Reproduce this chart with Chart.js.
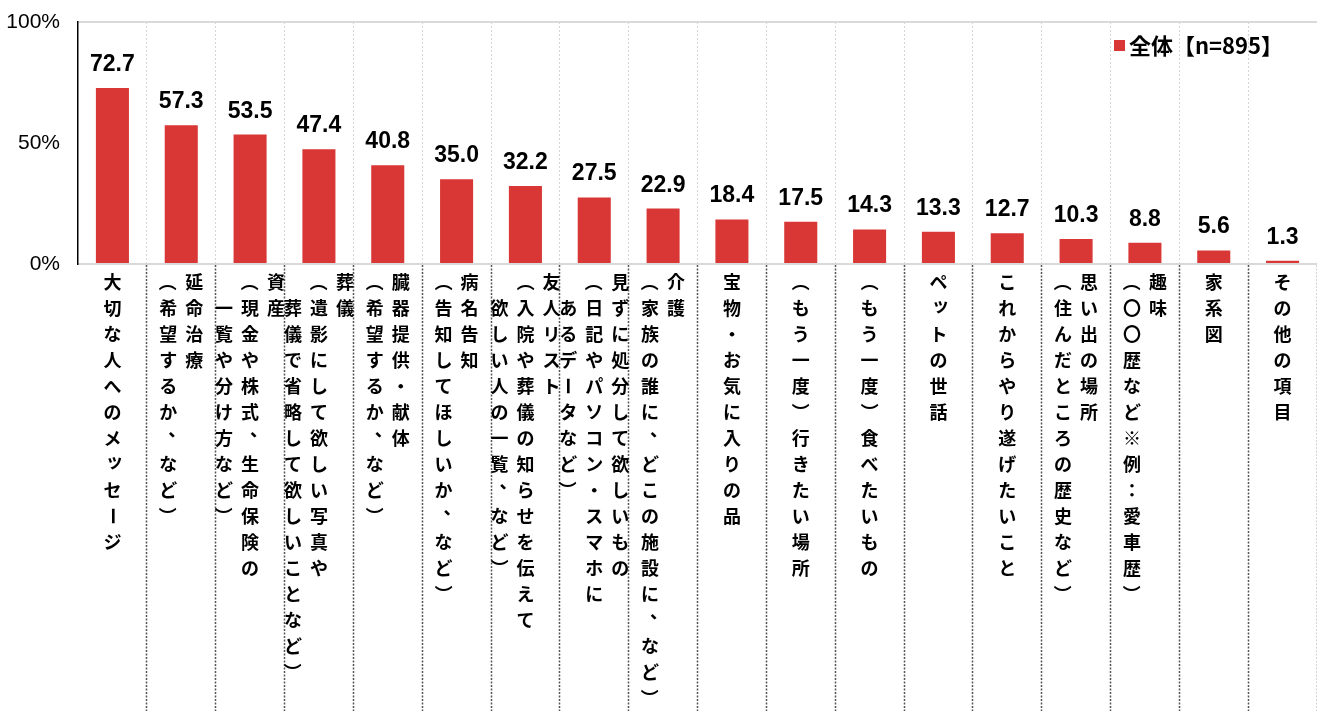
<!DOCTYPE html>
<html lang="ja">
<head>
<meta charset="utf-8">
<script src="https://cdn.jsdelivr.net/npm/chart.js@4"></script>
<style>
  html, body { margin: 0; padding: 0; background: #fff; }
  #wrap { width: 1317px; height: 711px; }
</style>
</head>
<body>
<div id="wrap"><canvas id="chart"></canvas></div>
<script>
// categories: each entry = vertical text columns, right to left
const categories = [
  ['大切な人へのメッセージ'],
  ['延命治療', '（希望するか、など）'],
  ['資産', '（現金や株式、生命保険の', '　一覧や分け方など）'],
  ['葬儀', '（遺影にして欲しい写真や', '　葬儀で省略して欲しいことなど）'],
  ['臓器提供・献体', '（希望するか、など）'],
  ['病名告知', '（告知してほしいか、など）'],
  ['友人リスト', '（入院や葬儀の知らせを伝えて', '　欲しい人の一覧、など）'],
  ['見ずに処分して欲しいもの', '（日記やパソコン・スマホに', '　あるデータなど）'],
  ['介護', '（家族の誰に、どこの施設に、など）'],
  ['宝物・お気に入りの品'],
  ['（もう一度）行きたい場所'],
  ['（もう一度）食べたいもの'],
  ['ペットの世話'],
  ['これからやり遂げたいこと'],
  ['思い出の場所', '（住んだところの歴史など）'],
  ['趣味', '（〇〇歴など※例：愛車歴）'],
  ['家系図'],
  ['その他の項目']
];
const seriesLabel = '全体【n=895】';
const values = [72.7, 57.3, 53.5, 47.4, 40.8, 35.0, 32.2, 27.5, 22.9, 18.4, 17.5, 14.3, 13.3, 12.7, 10.3, 8.8, 5.6, 1.3];
const yTicks = [0, 50, 100];

const RED = '#D93636';
const JP = '"Noto Sans CJK JP", "Noto Sans", sans-serif';

// value labels above each bar + legend inside the plot
const barLabels = {
  id: 'barLabels',
  afterDatasetsDraw(chart) {
    const ctx = chart.ctx;
    const meta = chart.getDatasetMeta(0);
    ctx.save();
    ctx.fillStyle = '#000';
    ctx.font = 'bold 23px "Liberation Sans", Arial, sans-serif';
    ctx.textAlign = 'center';
    ctx.textBaseline = 'alphabetic';
    meta.data.forEach((bar, i) => {
      ctx.fillText(values[i].toFixed(1), bar.x, bar.y - 17);
    });
    // legend
    const a = chart.chartArea;
    ctx.fillStyle = chart.data.datasets[0].backgroundColor;
    ctx.fillRect(a.right - 203, a.top + 18, 11, 11);
    ctx.fillStyle = '#000';
    ctx.font = 'bold 22px ' + JP;
    ctx.textAlign = 'left';
    ctx.textBaseline = 'middle';
    ctx.fillText(chart.data.datasets[0].label, a.right - 188, a.top + 24);
    ctx.restore();
  }
};

// vertical (tategaki) category labels under the axis
const rotateChars = '（）ー〜';
const vertLabels = {
  id: 'vertLabels',
  afterDraw(chart) {
    const ctx = chart.ctx;
    const xs = chart.scales.x;
    const top = chart.chartArea.bottom + 18;
    const pitch = 26;
    ctx.save();
    ctx.fillStyle = '#000';
    ctx.font = 'bold 18px ' + JP;
    ctx.textAlign = 'center';
    ctx.textBaseline = 'middle';
    categories.forEach((lines, i) => {
      const cx = xs.getPixelForValue(i);
      const n = lines.length;
      lines.forEach((line, j) => {
        const x = cx + ((n - 1) / 2 - j) * pitch;
        Array.from(line).forEach((ch, r) => {
          const y = top + r * pitch;
          if (rotateChars.includes(ch)) {
            ctx.save();
            ctx.translate(x, y);
            ctx.rotate(Math.PI / 2);
            ctx.fillText(ch, 0, 0);
            ctx.restore();
          } else if (ch === '、') {
            ctx.fillText(ch, x + 9, y - 9);
          } else if (ch === 'ッ') {
            ctx.fillText(ch, x + 2, y - 3);
          } else {
            ctx.fillText(ch, x, y);
          }
        });
      });
    });
    ctx.restore();
  }
};

const data = {
  labels: categories,
  datasets: [{
    label: seriesLabel,
    data: values,
    backgroundColor: RED,
    barPercentage: 0.48,
    categoryPercentage: 1.0
  }]
};

const config = {
  type: 'bar',
  data: data,
  options: {
    responsive: true,
    maintainAspectRatio: false,
    animation: false,
    layout: { padding: { top: 22, right: 0, left: 0, bottom: 0 } },
    plugins: {
      legend: { display: false },
      tooltip: { enabled: false }
    },
    scales: {
      x: {
        offset: true,
        ticks: { display: false },
        grid: {
          offset: true,
          color: '#d4d4d4',
          lineWidth: 1,
          drawTicks: true,
          tickLength: 447,
          tickWidth: 1.5,
          tickBorderDash: [2, 1.5],
          tickColor: (c) => c.index === 0 ? 'rgba(0,0,0,0)' : '#555'
        },
        border: { display: true, color: '#d9d9d9', width: 2, dash: [2, 2] },
        afterFit(scale) { scale.height = 447; }
      },
      y: {
        min: 0,
        max: 100,
        afterBuildTicks(scale) { scale.ticks = yTicks.map(v => ({ value: v })); },
        ticks: {
          padding: 2,
          color: '#000',
          font: { family: '"Liberation Sans", Arial, sans-serif', size: 21 },
          callback: (v) => v + '%'
        },
        grid: {
          drawTicks: true,
          tickLength: 16,
          tickColor: 'rgba(0,0,0,0)',
          lineWidth: 2,
          color: (c) => c.tick && c.tick.value === 50 ? 'rgba(0,0,0,0)' : '#d9d9d9'
        },
        border: { display: true, color: '#000', width: 1.5 },
        afterFit(scale) { scale.width = 78; }
      }
    }
  },
  plugins: [barLabels, vertLabels]
};

const ctx = document.getElementById('chart');
new Chart(ctx, config);
</script>
</body>
</html>
